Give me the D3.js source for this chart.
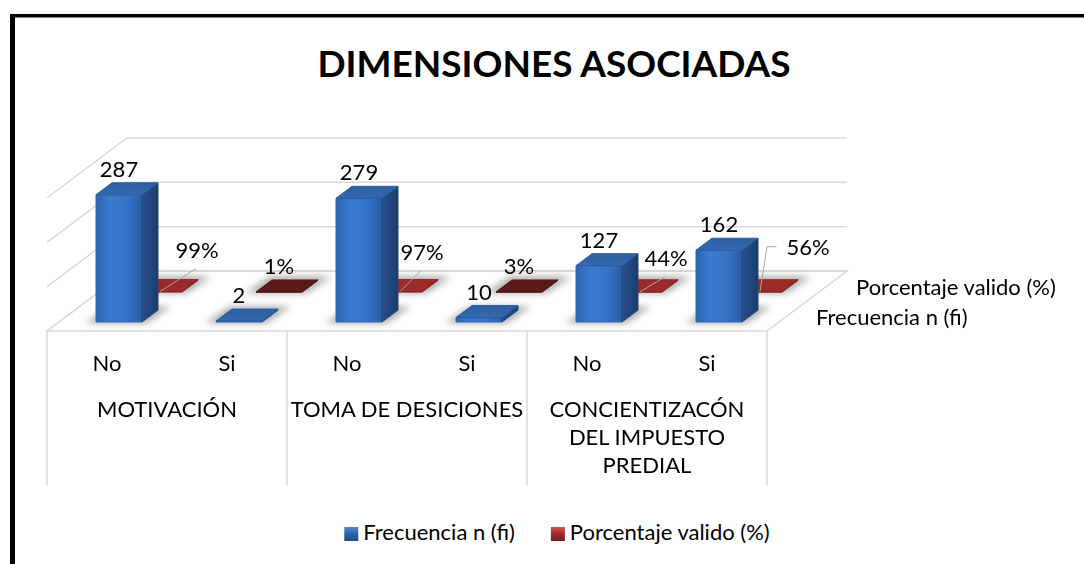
<!DOCTYPE html>
<html>
<head>
<meta charset="utf-8">
<script src="https://cdn.jsdelivr.net/npm/d3@7"></script>
<style>
  html, body { margin: 0; padding: 0; background: #fff; }
  svg { display: block; font-family: Lato, "Open Sans", sans-serif; }
</style>
</head>
<body>
<svg id="chart" width="1084" height="564"></svg>
<script>
const groups = ["MOTIVACIÓN", "TOMA DE DESICIONES", "CONCIENTIZACÓN DEL IMPUESTO PREDIAL"];
const answers = ["No", "Si", "No", "Si", "No", "Si"];
const frecuencia = [287, 2, 279, 10, 127, 162];
const porcentaje = [0.99, 0.01, 0.97, 0.03, 0.44, 0.56];
const seriesNames = ["Frecuencia n (fi)", "Porcentaje valido (%)"];
const valueTicks = [0, 100, 200, 300];

// labels that were dragged away from their tile in the original (leader lines)
const pctLabelNudge = [[38, -16], [0, 0], [23, -14], [0, 0], [27, -8], [49, -19]];

const svg = d3.select("#chart");
const width = 1084, height = 564;
const x0 = 47, x1 = 767, y0 = 331; // front edge of the floor
const DX = 80, DY = 60;             // depth vector of the floor
const barW = 46;
const fontSize = "22px";
const rows = [
  { name: seriesNames[0], values: frecuencia, d1: 0.15, d2: 0.35, fmt: d3.format("d") },
  { name: seriesNames[1], values: porcentaje, d1: 0.65, d2: 0.85, fmt: d3.format(".0%") },
];

const xScale = d3.scaleBand().domain(d3.range(answers.length)).range([x0, x1]);
const hScale = d3.scaleLinear().domain([0, 300]).range([0, 133]);
const P = (x, d, h) => [x + d * DX, y0 - d * DY - h];
const poly = (pts) => "M" + pts.map((p) => p.join(",")).join("L") + "Z";

// gradients & filters
const defs = svg.append("defs");
const grad = (id, stops, vertical) => {
  const g = defs.append("linearGradient").attr("id", id)
    .attr("x1", 0).attr("y1", 0).attr("x2", vertical ? 0 : 1).attr("y2", vertical ? 1 : 0);
  stops.forEach(([o, c]) => g.append("stop").attr("offset", o).attr("stop-color", c));
};
grad("blueFront", [[0, "#2c63b0"], [0.3, "#3a7bcf"], [0.75, "#3470c2"], [1, "#2a5ba2"]]);
grad("blueSide", [[0, "#26508c"], [1, "#1b3d6d"]]);
grad("blueTop", [[0, "#2d5f9f"], [1, "#3469b2"]], true);
grad("redFront", [[0, "#8a2523"], [1, "#6e1d1b"]]);
grad("redSide", [[0, "#641816"], [1, "#4d1211"]]);
grad("legBlue", [[0, "#4f8ad3"], [0.45, "#2f65ad"], [1, "#1f4a86"]], true);
grad("legRed", [[0, "#d25451"], [0.45, "#a42d2a"], [1, "#731c1a"]], true);
defs.append("filter").attr("id", "blur").attr("x", "-50%").attr("y", "-50%")
  .attr("width", "200%").attr("height", "200%")
  .append("feGaussianBlur").attr("stdDeviation", 3.5);

// outer frame (only the top and left sides fall inside the picture)
svg.append("line").attr("x1", 12.5).attr("x2", 12.5).attr("y1", 14).attr("y2", height)
  .attr("stroke", "#000").attr("stroke-width", 5);
svg.append("line").attr("x1", 10).attr("x2", width).attr("y1", 15.75).attr("y2", 15.75)
  .attr("stroke", "#000").attr("stroke-width", 3.5);

//title
svg.append("text")
  .attr("x", 554).attr("y", 77)
  .attr("text-anchor", "middle")
  .style("font-size", "37px").style("font-weight", "700")
  .text("DIMENSIONES ASOCIADAS");

// walls, floor, gridlines
const grid = svg.append("g").attr("fill", "none").attr("stroke", "#d9d9d9").attr("stroke-width", 1.5);
grid.append("path").attr("fill", "#fff")
  .attr("d", poly([P(x0, 0, 0), P(x1, 0, 0), P(x1, 1, 0), P(x0, 1, 0)]));
valueTicks.forEach((t) => {
  const h = hScale(t);
  grid.append("path").attr("d", d3.line()([P(x0, 0, h), P(x0, 1, h), P(x1, 1, h)]));
});
// category dividers under the floor
[0, 2, 4, 6].forEach((i) => {
  const x = i < 6 ? xScale(i) : x1;
  grid.append("line").attr("x1", x).attr("x2", x).attr("y1", y0).attr("y2", 485);
});

// bars, back row first
const shadowG = svg.append("g").attr("filter", "url(#blur)");
const barG = svg.append("g");
[rows[1], rows[0]].forEach((row) => {
  const isRed = row === rows[1];
  row.values.forEach((v, i) => {
    const xc = xScale(i) + xScale.bandwidth() / 2;
    const xl = xc - barW / 2, xr = xc + barW / 2;
    const h = hScale(v);
    shadowG.append("path")
      .attr("fill", "#6f6f6f").attr("opacity", 0.6)
      .attr("d", poly([P(xl - 9, row.d1 - 0.02, 0), P(xr + 6, row.d1 - 0.02, 0),
                       P(xr + 8, row.d2 + 0.06, 0), P(xl - 7, row.d2 + 0.06, 0)]));
    const g = barG.append("g").attr("stroke-linejoin", "round").attr("stroke-width", 1);
    const topFill = isRed ? (v < 0.05 ? "#5a1a18" : "#9c2a27") : "url(#blueTop)";
    const topStroke = isRed ? (v < 0.05 ? "#4a1413" : "#8a2422") : "#2b5c9d";
    g.append("path").attr("fill", isRed ? "url(#redFront)" : "url(#blueFront)")
      .attr("stroke", isRed ? "#6e1d1b" : "#2f67b4")
      .attr("d", poly([P(xl, row.d1, 0), P(xr, row.d1, 0), P(xr, row.d1, h), P(xl, row.d1, h)]));
    g.append("path").attr("fill", isRed ? "url(#redSide)" : "url(#blueSide)")
      .attr("stroke", isRed ? "#4d1211" : "#1f4477")
      .attr("d", poly([P(xr, row.d1, 0), P(xr, row.d2, 0), P(xr, row.d2, h), P(xr, row.d1, h)]));
    g.append("path").attr("fill", topFill).attr("stroke", topStroke)
      .attr("d", poly([P(xl, row.d1, h), P(xr, row.d1, h), P(xr, row.d2, h), P(xl, row.d2, h)]));
  });
});

// data labels
const labelG = svg.append("g").style("font-size", fontSize).attr("fill", "#000");
rows.forEach((row, ri) => {
  row.values.forEach((v, i) => {
    const xc = xScale(i) + xScale.bandwidth() / 2;
    const h = hScale(v);
    const [fx, fy] = P(xc, row.d1, h);
    const [, by] = P(xc, row.d2, h);
    let lx = fx, ly = by - 6;
    if (ri === 1) {
      const [ndx, ndy] = pctLabelNudge[i];
      lx += ndx; ly += ndy;
      if (ndx !== 0) {
        const t = labelG.append("text").attr("x", lx).attr("y", ly)
          .attr("text-anchor", "middle").text(row.fmt(v));
        const half = t.node().getComputedTextLength() / 2;
        const pts = ndx > 40
          ? [[fx + 1, fy], [fx + 8, ly - 8], [lx - half - 10, ly - 8]]
          : [[fx + 1, fy], [lx - 1, ly + 11]];
        labelG.append("path").attr("d", d3.line()(pts))
          .attr("fill", "none").attr("stroke", "#a6a6a6").attr("stroke-width", 1);
        return;
      }
    }
    labelG.append("text").attr("x", lx).attr("y", ly)
      .attr("text-anchor", "middle").text(row.fmt(v));
  });
});

// series (depth) axis labels
const axisG = svg.append("g").style("font-size", fontSize).attr("fill", "#000");
rows.forEach((row) => {
  const [ex, ey] = P(x1, (row.d1 + row.d2) / 2, 0);
  axisG.append("text").attr("x", ex + 29).attr("y", ey + 9).text(row.name);
});

// category axis
answers.forEach((a, i) => {
  axisG.append("text")
    .attr("x", xScale(i) + xScale.bandwidth() / 2).attr("y", 371)
    .attr("text-anchor", "middle").text(a);
});
groups.forEach((name, gi) => {
  const cx = xScale(gi * 2) + xScale.bandwidth();
  const t = axisG.append("text").attr("x", cx).attr("y", 417).attr("text-anchor", "middle");
  const words = name.split(" ");
  let line = [], tspan = t.append("tspan").attr("x", cx).attr("dy", 0);
  words.forEach((w) => {
    line.push(w);
    tspan.text(line.join(" "));
    if (tspan.node().getComputedTextLength() > 236 && line.length > 1) {
      line.pop();
      tspan.text(line.join(" "));
      line = [w];
      tspan = t.append("tspan").attr("x", cx).attr("dy", 28).text(w);
    }
  });
});

// legend
const legend = svg.append("g").style("font-size", fontSize);
let lx = 0;
const items = [["url(#legBlue)", seriesNames[0]], ["url(#legRed)", seriesNames[1]]];
items.forEach(([fill, name]) => {
  const it = legend.append("g").attr("transform", `translate(${lx},0)`);
  it.append("rect").attr("x", 0).attr("y", -13).attr("width", 14).attr("height", 14).attr("fill", fill);
  const t = it.append("text").attr("x", 19).attr("y", 0).text(name);
  lx += 19 + t.node().getComputedTextLength() + 36;
});
const lw = lx - 36;
legend.attr("transform", `translate(${557 - lw / 2},540)`);
</script>
</body>
</html>
